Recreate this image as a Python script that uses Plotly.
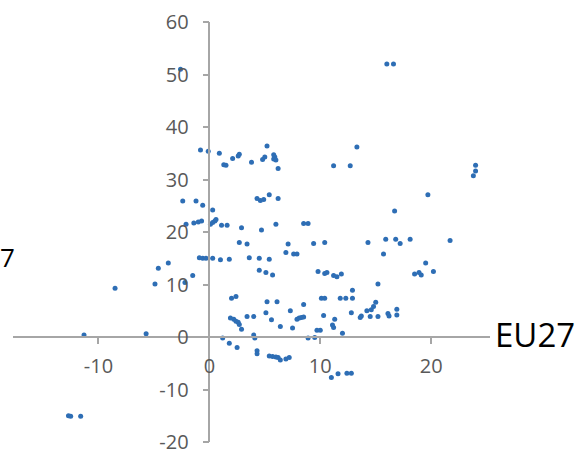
import plotly.graph_objects as go

# Scatter data (x, y)
x_vals = [
    -2.6, 16.0, 16.6, 13.3, 11.2, 12.7, 24.0, 24.0, 23.8, 19.7, 16.7,
    -0.8, -0.1, 0.9, 1.3, 1.5, 2.1, 2.6, 2.7, 3.8, 4.8, 5.0, 5.2, 5.8, 5.9, 5.8, 6.0, 6.2,
    -2.4, -1.2, -0.6, 0.3, 4.3, 4.6, 4.9, 5.4, 6.2,
    -2.1, -1.4, -1.0, -0.7, 0.1, 0.3, 0.5, 0.6, 1.1, 1.6, 2.9, 4.7, 6.0, 8.5, 8.9,
    2.7, 3.4, 7.1, 9.4, 10.4, 14.3, 15.9, 16.8, 17.2, 18.1, 21.7,
    6.9, 7.6, 7.9, 15.7,
    -0.9, -0.6, -0.3, 0.3, 1.0, 1.8, 3.6, 4.5, 5.4,
    -3.7, -4.6, -4.9, -8.5, -2.2, -1.5, -5.7, -11.3,
    -12.7, -12.5, -11.6,
    4.5, 5.1, 5.7, 9.8, 10.4, 10.6, 11.2, 11.5, 11.9, 19.5, 18.5, 18.9, 19.1, 20.2, 15.2,
    12.9,
    2.0, 2.4, 5.2, 6.1, 8.5, 10.1, 10.4, 11.8, 12.3, 12.9,
    5.1, 7.3, 12.8, 10.3, 13.6, 13.7, 14.2, 14.6, 14.8, 15.0, 14.5, 15.2, 16.1, 16.2, 16.9, 16.9,
    1.9, 2.2, 2.4, 2.6, 2.7, 3.4, 4.0, 5.6, 7.9, 8.1, 8.3, 8.5, 11.3, 11.1, 11.2,
    6.4, 7.5, 2.9, 9.7, 10.0, 12.0,
    4.0, 4.1, 1.2, 8.9, 9.5,
    1.8, 2.5, 4.3, 4.3, 5.4, 5.7, 6.0, 6.2, 6.4, 6.9, 7.2,
    11.0, 11.6, 12.4, 12.8,
]
y_vals = [
    51.0, 52.0, 52.0, 36.2, 32.6, 32.6, 32.7, 31.6, 30.7, 27.1, 24.0,
    35.6, 35.4, 35.0, 32.8, 32.7, 34.0, 34.5, 34.8, 33.3, 33.8, 34.3, 36.4, 34.7, 34.3, 33.9, 33.7, 32.1,
    25.9, 25.9, 25.1, 24.2, 26.4, 26.0, 26.2, 27.1, 26.4,
    21.5, 21.7, 21.9, 22.1, 21.5, 21.8, 22.1, 22.4, 21.3, 21.3, 20.8, 20.4, 21.5, 21.6, 21.6,
    18.0, 17.7, 17.7, 17.8, 18.0, 18.0, 18.6, 18.6, 17.8, 18.6, 18.4,
    16.1, 15.8, 15.8, 15.8,
    15.1, 15.0, 15.0, 15.0, 14.7, 14.8, 15.1, 15.0, 14.8,
    14.1, 13.1, 10.1, 9.3, 10.4, 11.7, 0.6, 0.4,
    -15.0, -15.1, -15.1,
    12.7, 12.3, 11.8, 12.5, 12.1, 12.3, 11.7, 11.5, 12.0, 14.1, 12.0, 12.3, 11.8, 12.5, 10.1,
    8.9,
    7.4, 7.7, 6.7, 6.7, 6.2, 7.4, 7.4, 7.4, 7.4, 7.4,
    4.6, 5.0, 4.6, 4.1, 3.7, 4.0, 5.0, 5.2, 5.8, 6.6, 3.9, 3.9, 4.5, 4.0, 5.3, 4.2,
    3.6, 3.4, 3.0, 2.8, 2.4, 3.9, 3.9, 3.3, 3.4, 3.6, 3.7, 3.8, 3.4, 2.3, 1.8,
    2.0, 1.7, 1.5, 1.3, 1.3, 0.7,
    0.4, -0.2, -0.2, -0.2, -0.1,
    -1.2, -2.0, -2.6, -3.2, -3.6, -3.7, -3.8, -3.9, -4.4, -4.2, -3.9,
    -7.7, -7.0, -6.9, -6.9,
]

x_ticks = [-10, 0, 10, 20]
y_ticks = [-20, -10, 0, 10, 20, 30, 40, 50, 60]
x_range = [-17.7, 25.3]
y_range = [-20, 60]
x_label = "EU27"
left_label = "7"

fig = go.Figure()
fig.add_trace(go.Scatter(
    x=x_vals, y=y_vals, mode="markers",
    marker=dict(size=5, color="#2E6EB5"),
    cliponaxis=False,
    showlegend=False,
))

axis_color = "#A6A6A6"
tick_font = dict(family="Open Sans", size=20, color="#595959")

y_pos = (0 - y_range[0]) / (y_range[1] - y_range[0])
x_pos = (0 - x_range[0]) / (x_range[1] - x_range[0])

fig.update_layout(
    width=584, height=450,
    margin=dict(l=13, r=94, t=22, b=8),
    paper_bgcolor="white", plot_bgcolor="white",
    xaxis=dict(
        range=x_range, tickvals=x_ticks, ticktext=[str(v) for v in x_ticks],
        showgrid=False, zeroline=False, showline=True,
        linecolor=axis_color, linewidth=1.5,
        ticks="outside", ticklen=6, tickwidth=1.5, tickcolor=axis_color,
        tickfont=tick_font, anchor="free", position=y_pos,
        automargin=False, ticklabelstandoff=5, ticklabeloverflow="allow",
    ),
    yaxis=dict(
        range=y_range, tickvals=y_ticks, ticktext=[str(v) for v in y_ticks],
        showgrid=False, zeroline=False, showline=True,
        linecolor=axis_color, linewidth=1.5,
        ticks="outside", ticklen=6, tickwidth=1.5, tickcolor=axis_color,
        tickfont=tick_font, anchor="free", position=x_pos,
        automargin=False, ticklabelstandoff=10, ticklabeloverflow="allow",
    ),
    annotations=[
        dict(text=x_label, xref="paper", yref="paper", x=1.006, y=0.257,
             xanchor="left", yanchor="middle", showarrow=False,
             font=dict(family="Open Sans", size=33, color="black")),
        dict(text=left_label, xref="paper", yref="paper", x=0.008, y=0.44,
             xanchor="right", yanchor="middle", showarrow=False,
             font=dict(family="Open Sans", size=26, color="black")),
    ],
)

fig.write_html("out.html", config={"displayModeBar": False},
               post_script="document.body.style.margin='0';")
